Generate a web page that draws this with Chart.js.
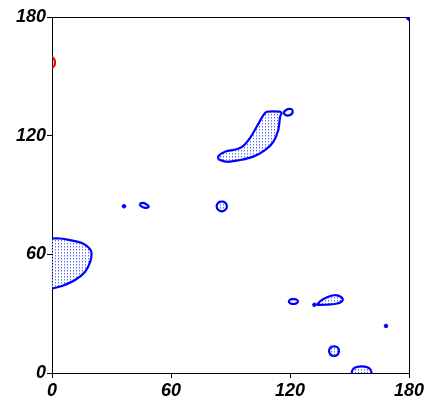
<!DOCTYPE html>
<html>
<head>
<meta charset="utf-8">
<script src="https://cdn.jsdelivr.net/npm/chart.js@4"></script>
<style>
  body { margin: 0; background: #fff; }
  #plot { display: block; }
</style>
</head>
<body>
<canvas id="plot" width="444" height="403"></canvas>
<script>
// axis ticks (degrees)
var xTicks = [0, 60, 120, 180];
var yTicks = [0, 60, 120, 180];

// contour outlines, shaded ones first
var leftLobe = [
  [0, 68.0], [4.0, 68.0], [9.1, 67.2], [15.1, 65.7], [18.7, 63.2], [19.9, 60.7],
  [19.2, 56.1], [16.6, 51.1], [11.6, 47.0], [5.0, 44.0], [0, 42.7]
];
var ridge = [
  [83.9, 108.0], [88.1, 106.8], [94.8, 107.7], [101.5, 109.4], [107.4, 112.7],
  [111.6, 116.9], [114.1, 122.9], [115.0, 129.6], [115.7, 131.4], [115.0, 132.1],
  [108.3, 132.1], [106.6, 130.4], [103.2, 124.5], [99.8, 118.7], [96.5, 114.8],
  [93.1, 113.1], [87.2, 111.9], [83.9, 109.7], [83.9, 108.0]
];
var roundMid = [
  [85.6, 86.9], [87.4, 86.1], [88.2, 84.3], [87.4, 82.5], [85.6, 81.7],
  [83.8, 82.5], [83.0, 84.3], [83.8, 86.1], [85.6, 86.9]
];
var wedge = [
  [133.4, 34.4], [138.2, 34.5], [143.2, 35.0], [146.0, 36.1], [146.5, 37.7],
  [144.7, 39.0], [142.2, 39.3], [139.0, 38.4], [135.6, 36.6], [133.4, 34.4]
];
var roundLow = [
  [142.2, 13.6], [144.0, 12.9], [144.7, 11.1], [144.0, 9.3], [142.2, 8.6],
  [140.4, 9.3], [139.7, 11.1], [140.4, 12.9], [142.2, 13.6]
];
var edgeCap = [
  [151.0, -1.0], [151.5, 1.5], [153.2, 2.9], [156.1, 3.4], [159.0, 2.9],
  [160.7, 1.5], [161.2, -1.0]
];

// open outlines
var tiltOval = [
  [44.1, 85.7], [45.9, 86.0], [48.2, 84.9], [48.7, 83.9], [46.9, 83.5], [44.9, 84.4], [44.1, 85.7]
];
var loopTip = [
  [116.5, 131.4], [118.0, 133.0], [120.0, 133.5], [121.3, 132.7], [120.8, 130.9], [118.5, 130.2], [116.5, 131.4]
];
var flatOval = [
  [121.7, 37.5], [123.3, 37.1], [124.0, 36.2], [123.3, 35.3], [121.7, 34.9],
  [120.1, 35.3], [119.4, 36.2], [120.1, 37.1], [121.7, 37.5]
];
var cornerArc = [[178.0, 180.5], [179.2, 179.3], [180.4, 178.2]];
var redArc = [[0, 159.8], [1.1, 158.8], [1.5, 157.0], [1.1, 155.2], [0, 154.2]];

// isolated spots
var spots = [[36.3, 84.3], [132.3, 34.5], [168.4, 23.8]];

var BLUE = '#0000ff';
var axisFont = { family: 'Liberation Sans', size: 18, weight: 'bold', style: 'italic' };

function pts(list) {
  return list.map(function (p) { return { x: p[0], y: p[1] }; });
}

// dotted stipple for shaded contours
var tile = document.createElement('canvas');
tile.width = 3; tile.height = 3;
var tctx = tile.getContext('2d');
tctx.fillStyle = 'rgb(90,110,255)';
tctx.fillRect(1, 0, 1, 1);
tctx.fillStyle = 'rgb(175,185,255)';
tctx.fillRect(1, 1, 1, 1);
var stipple = document.getElementById('plot').getContext('2d').createPattern(tile, 'repeat');

function contour(list, shaded, color) {
  return {
    data: pts(list),
    showLine: true,
    shade: shaded,
    borderColor: color || BLUE,
    borderWidth: 2.2,
    tension: 0.35,
    pointRadius: 0,
    fill: false,
    clip: 0
  };
}

var shadePlugin = {
  id: 'shade',
  beforeDatasetsDraw: function (chart) {
    var ctx = chart.ctx, a = chart.chartArea;
    ctx.save();
    ctx.beginPath();
    ctx.rect(a.left, a.top, a.right - a.left, a.bottom - a.top);
    ctx.clip();
    chart.data.datasets.forEach(function (ds, i) {
      if (!ds.shade) return;
      var line = chart.getDatasetMeta(i).dataset;
      line.updateControlPoints(a);
      ctx.beginPath();
      line.path(ctx);
      ctx.closePath();
      ctx.fillStyle = stipple;
      ctx.fill();
    });
    ctx.restore();
  }
};

// closes the frame on the top and right sides
var framePlugin = {
  id: 'frame',
  beforeDatasetsDraw: function (chart) {
    var ctx = chart.ctx, a = chart.chartArea;
    ctx.save();
    ctx.strokeStyle = '#000';
    ctx.lineWidth = 1;
    ctx.beginPath();
    ctx.moveTo(a.left, a.top + 0.5);
    ctx.lineTo(a.right + 0.5, a.top + 0.5);
    ctx.lineTo(a.right + 0.5, a.bottom);
    ctx.stroke();
    ctx.restore();
  }
};

new Chart(document.getElementById('plot'), {
  type: 'scatter',
  data: {
    datasets: [
      contour(leftLobe, true),
      contour(ridge, true),
      contour(roundMid, true),
      contour(wedge, true),
      contour(roundLow, true),
      contour(edgeCap, true),
      contour(tiltOval, false),
      contour(loopTip, false),
      contour(flatOval, false),
      contour(cornerArc, false),
      contour(redArc, false, '#ff0000'),
      {
        data: pts(spots),
        pointRadius: 1.8,
        pointBackgroundColor: BLUE,
        pointBorderColor: BLUE,
        pointBorderWidth: 1
      }
    ]
  },
  options: {
    responsive: false,
    animation: false,
    layout: { padding: { top: 17, right: 35, left: 0, bottom: 0 } },
    plugins: { legend: { display: false }, tooltip: { enabled: false } },
    scales: {
      x: {
        type: 'linear',
        min: 0, max: 180,
        afterFit: function (s) { s.height = 30; },
        afterBuildTicks: function (s) { s.ticks = xTicks.map(function (v) { return { value: v }; }); },
        ticks: { font: axisFont, color: '#000', padding: 2, maxRotation: 0 },
        grid: { drawOnChartArea: false, drawTicks: true, tickLength: 5, color: '#000' },
        border: { display: true, color: '#000', width: 1 }
      },
      y: {
        type: 'linear',
        min: 0, max: 180,
        afterFit: function (s) { s.width = 52; },
        afterBuildTicks: function (s) { s.ticks = yTicks.map(function (v) { return { value: v }; }); },
        ticks: { font: axisFont, color: '#000', padding: 1 },
        grid: { drawOnChartArea: false, drawTicks: true, tickLength: 5, color: '#000' },
        border: { display: true, color: '#000', width: 1 }
      }
    }
  },
  plugins: [shadePlugin, framePlugin]
});
</script>
</body>
</html>
